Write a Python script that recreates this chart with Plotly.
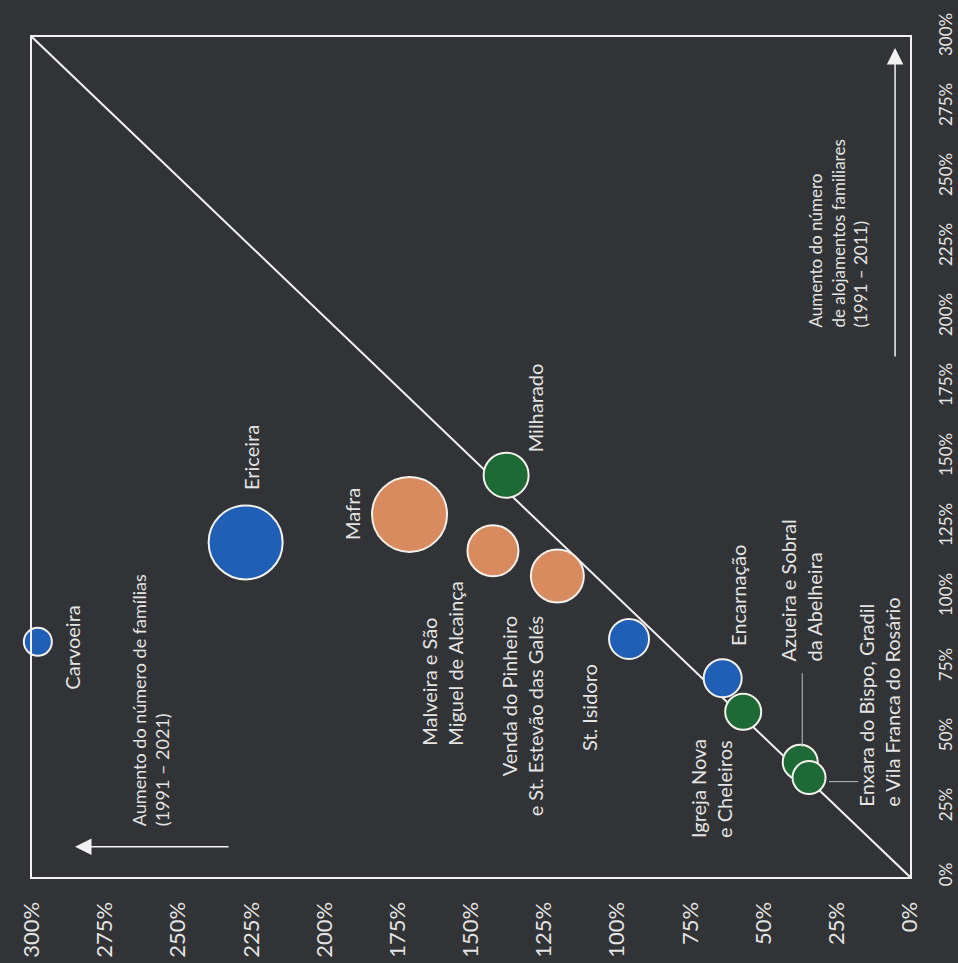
import plotly.graph_objects as go

# ---- data ----
freguesias = [
    "Carvoeira", "Ericeira", "Mafra", "Malveira e São Miguel de Alcainça",
    "Venda do Pinheiro e St. Estevão das Galés", "St. Isidoro", "Encarnação",
    "Milharado", "Igreja Nova e Cheleiros", "Azueira e Sobral da Abelheira",
    "Enxara do Bispo, Gradil e Vila Franca do Rosário",
]
# aumento do número de famílias (1991-2021), %
aumento_familias = [298, 227, 171, 142.5, 120.5, 96, 64, 138, 57, 37.5, 34.5]
# aumento do número de alojamentos familiares (1991-2011), %
aumento_alojamentos = [84, 119.5, 129.5, 116.5, 107.5, 85, 71, 143.5, 59, 41, 35.5]
# bubble size (relative dimension)
dimensao = [28, 74, 75, 51, 53, 40, 38, 45, 36, 35, 33]
grupo = ["azul", "azul", "laranja", "laranja", "laranja", "azul", "azul",
         "verde", "verde", "verde", "verde"]

rotulos = [
    "Carvoeira", "Ericeira", "Mafra", "Malveira e São<br>Miguel de Alcainça",
    "Venda do Pinheiro<br>e St. Estevão das Galés", "St. Isidoro", "Encarnação",
    "Milharado", "Igreja Nova<br>e Cheleiros", "Azueira e Sobral<br>da Abelheira",
    "Enxara do Bispo, Gradil<br>e Vila Franca do Rosário",
]

tick_vals = [0, 25, 50, 75, 100, 125, 150, 175, 200, 225, 250, 275, 300]
tick_text = ["0%", "25%", "50%", "75%", "100%", "125%", "150%", "175%",
             "200%", "225%", "250%", "275%", "300%"]
diagonal = [0, 300]

# ---- styles ----
BG = "#323336"
TXT = "#e4e4e4"
FONT = "Lato"
cores = {"azul": "#1f5fb6", "laranja": "#d98a5e", "verde": "#1d6a36"}

# label placement (pixel offsets from the bubble) and alignment, by name
label_style = {
    "Carvoeira": (34, -6, "left"),
    "Ericeira": (6, 85, "left"),
    "Mafra": (-57, 0, "left"),
    "Malveira e São Miguel de Alcainça": (-51, -112, "left"),
    "Venda do Pinheiro e St. Estevão das Galés": (-35, -140, "right"),
    "St. Isidoro": (-40, -69, "left"),
    "Encarnação": (16, 83, "left"),
    "Milharado": (29, 67, "left"),
    "Igreja Nova e Cheleiros": (-32, -77, "left"),
    "Azueira e Sobral da Abelheira": (1, 172, "left"),
    "Enxara do Bispo, Gradil e Vila Franca do Rosário": (70, 75, "left"),
}

fig = go.Figure()

fig.add_trace(go.Scatter(
    x=diagonal, y=diagonal, mode="lines",
    line=dict(color="#f2f2f2", width=2), hoverinfo="skip", showlegend=False,
    cliponaxis=False,
))

fig.add_trace(go.Scatter(
    x=aumento_familias, y=aumento_alojamentos, mode="markers",
    text=freguesias,
    marker=dict(size=dimensao, sizemode="diameter",
                color=[cores[g] for g in grupo],
                opacity=1, line=dict(color="#f4f0ea", width=2)),
    showlegend=False, cliponaxis=False,
))

annotations = []
for i, txt in enumerate(rotulos):
    dx, dy, al = label_style[freguesias[i]]
    annotations.append(dict(
        x=aumento_familias[i], y=aumento_alojamentos[i], xref="x", yref="y",
        text=txt, showarrow=False, textangle=-90, align=al,
        xanchor="center", yanchor="middle", xshift=dx, yshift=dy,
        font=dict(family=FONT, size=20, color=TXT),
    ))

# axis titles with arrows
annotations.append(dict(
    x=0.135, y=0.21, xref="paper", yref="paper",
    text="Aumento do número de famílias<br>(1991 – 2021)",
    showarrow=False, textangle=-90, align="left", xanchor="center", yanchor="middle",
    font=dict(family=FONT, size=18, color=TXT),
))
annotations.append(dict(
    x=0.918, y=0.766, xref="paper", yref="paper",
    text="Aumento do número<br>de alojamentos familiares<br>(1991 – 2011)",
    showarrow=False, textangle=-90, align="left", xanchor="center", yanchor="middle",
    font=dict(family=FONT, size=17, color=TXT),
))
annotations.append(dict(
    x=0.049, y=0.036, xref="paper", yref="paper", text="",
    showarrow=True, ax=155, ay=0, arrowhead=2, arrowsize=2.2, arrowwidth=1.5,
    arrowcolor="#f2f2f2",
))
annotations.append(dict(
    x=0.983, y=0.987, xref="paper", yref="paper", text="",
    showarrow=True, ax=0, ay=310, arrowhead=2, arrowsize=2.2, arrowwidth=1.5,
    arrowcolor="#f2f2f2",
))

# leader lines for the two overlapping small bubbles
shapes = [
    dict(type="line", xref="x", yref="y", xsizemode="pixel", ysizemode="pixel",
         xanchor=aumento_familias[9], yanchor=aumento_alojamentos[9],
         x0=2, x1=2, y0=15, y1=89, line=dict(color="#bdbdbd", width=1)),
    dict(type="line", xref="x", yref="y", xsizemode="pixel", ysizemode="pixel",
         xanchor=aumento_familias[10], yanchor=aumento_alojamentos[10],
         x0=20, x1=49, y0=-4, y1=-4, line=dict(color="#bdbdbd", width=1)),
]

fig.update_layout(
    width=958, height=963,
    paper_bgcolor=BG, plot_bgcolor=BG,
    margin=dict(l=32, r=48, t=37, b=86, autoexpand=False),
    font=dict(family=FONT, color=TXT),
    annotations=annotations, shapes=shapes,
    showlegend=False,
    xaxis=dict(range=[300, 0], tickvals=tick_vals, ticktext=tick_text,
               tickangle=-90, showgrid=False, zeroline=False,
               showline=True, mirror=True, linecolor="#f2f2f2", linewidth=2,
               ticks="outside", ticklen=14, tickcolor="rgba(0,0,0,0)",
               tickfont=dict(family=FONT, size=22, color=TXT), fixedrange=True),
    yaxis=dict(range=[0, 300], tickvals=tick_vals, ticktext=tick_text,
               side="right", tickangle=-90, showgrid=False, zeroline=False,
               showline=True, mirror=True, linecolor="#f2f2f2", linewidth=2,
               ticks="outside", ticklen=20, tickcolor="rgba(0,0,0,0)",
               tickfont=dict(family=FONT, size=17, color=TXT), fixedrange=True),
)

page_style = ("document.body.style.margin='0';"
              "document.body.style.overflow='hidden';"
              "document.body.style.background='" + BG + "';")

fig.write_html("out.html", post_script=page_style,
               config={"displayModeBar": False, "staticPlot": True})
